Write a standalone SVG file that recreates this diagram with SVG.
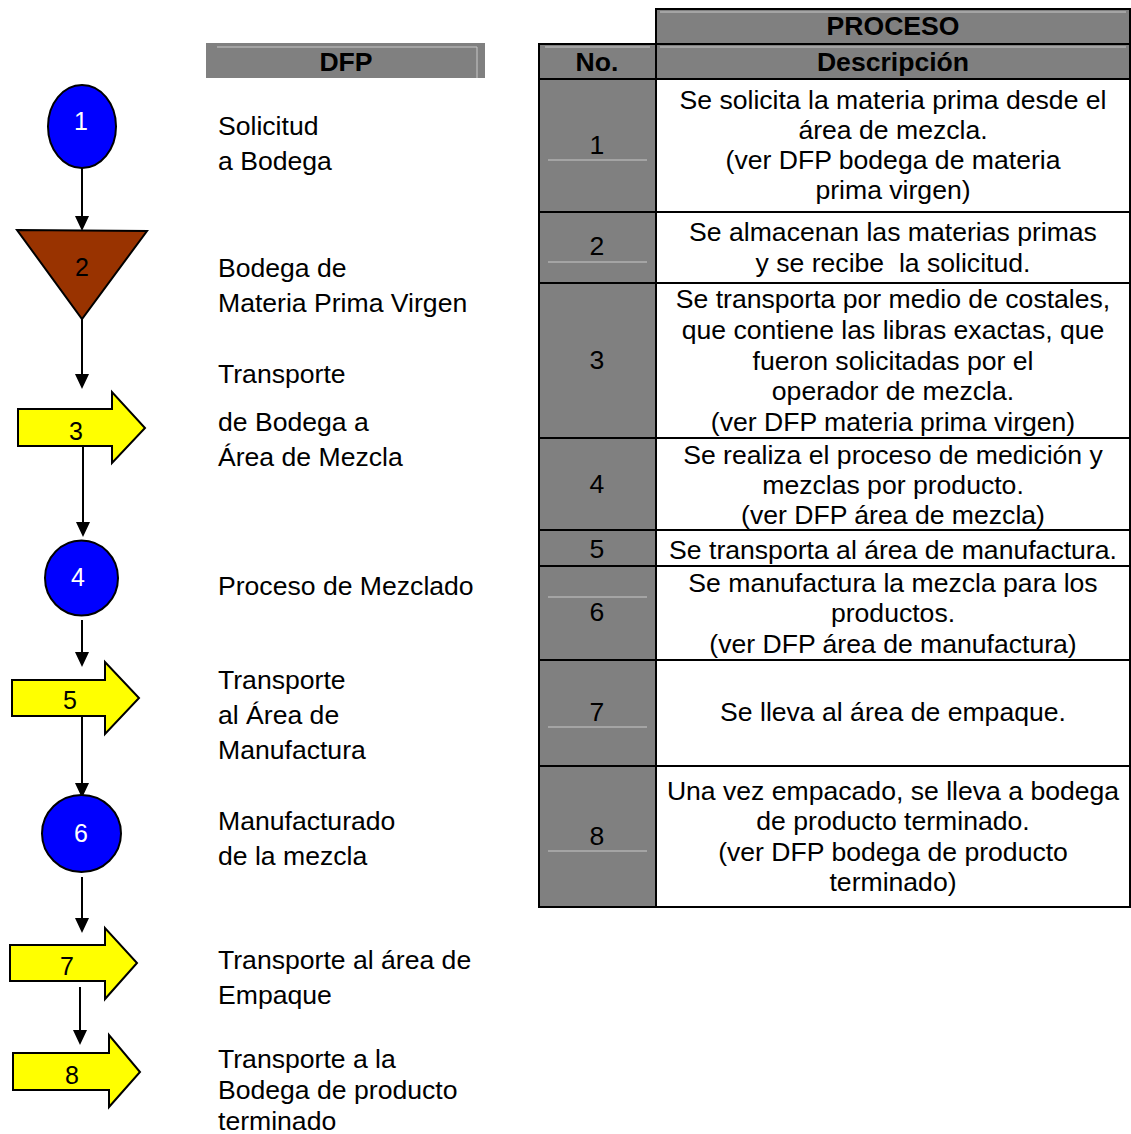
<svg xmlns="http://www.w3.org/2000/svg" width="1131" height="1134" viewBox="0 0 1131 1134">
<style>
  text { font-family: "Liberation Sans", Arial, sans-serif; font-size: 25px; fill: #000; }
  .c { text-anchor: middle; }
  .b { font-weight: bold; font-size: 25px; }
  .w { fill: #fff; }
  .lbl { white-space: pre; }
  .hdr { fill: #808080; stroke: #000; stroke-width: 2; }
  .cell { fill: #fff; stroke: #000; stroke-width: 2; }
  .nocell { fill: #808080; stroke: #000; stroke-width: 2; }
  .hl { stroke: #c8c8c8; stroke-width: 1; fill: none; }
  .conn { stroke: #000; stroke-width: 2; fill: none; marker-end: url(#ah); }
  .circ { fill: #0000ff; stroke: #000; stroke-width: 2; }
  .arr { fill: #ffff00; stroke: #000; stroke-width: 2; stroke-linejoin: miter; }
  .tri { fill: #993300; stroke: #000; stroke-width: 2; }
</style>
<defs>
  <marker id="ah" markerUnits="userSpaceOnUse" markerWidth="16" markerHeight="16" refX="7" refY="7" orient="auto">
    <path d="M0,0 L15,7 L0,14 z" fill="#000"/>
  </marker>
</defs>
<rect width="1131" height="1134" fill="#fff"/>

<!-- DFP header -->
<g id="dfp-header">
  <rect x="206" y="43" width="279" height="35" fill="#808080"/>
  <path class="hl" d="M217,47 H477 V78"/>
  <g transform="translate(346,0) scale(1.064,1)"><text class="c b" x="0" y="71">DFP</text></g>
</g>

<!-- Table -->
<g id="table">
  <rect class="hdr" x="656" y="9" width="474" height="35"/>
  <path class="hl" d="M660,12 H1126"/>
  <rect class="hdr" x="539" y="44" width="117" height="35"/>
  <rect class="hdr" x="656" y="44" width="474" height="35"/>
  <path class="hl" d="M545,47 H650 M660,47 H1126"/>
  <g transform="translate(597,0) scale(1.064,1)"><text class="c b" x="0" y="71">No.</text></g>

  <g id="row1">
    <rect class="nocell" x="539" y="79" width="117" height="133"/>
    <rect class="cell" x="656" y="79" width="474" height="133"/>
    <path class="hl" d="M548,160 H647"/>
  </g>
  <g id="row2">
    <rect class="nocell" x="539" y="212" width="117" height="71"/>
    <rect class="cell" x="656" y="212" width="474" height="71"/>
    <path class="hl" d="M548,262 H647"/>
  </g>
  <g id="row3">
    <rect class="nocell" x="539" y="283" width="117" height="155"/>
    <rect class="cell" x="656" y="283" width="474" height="155"/>
  </g>
  <g id="row4">
    <rect class="nocell" x="539" y="438" width="117" height="92"/>
    <rect class="cell" x="656" y="438" width="474" height="92"/>
  </g>
  <g id="row5">
    <rect class="nocell" x="539" y="530" width="117" height="36"/>
    <rect class="cell" x="656" y="530" width="474" height="36"/>
  </g>
  <g id="row6">
    <rect class="nocell" x="539" y="566" width="117" height="94"/>
    <rect class="cell" x="656" y="566" width="474" height="94"/>
    <path class="hl" d="M548,597 H647"/>
  </g>
  <g id="row7">
    <rect class="nocell" x="539" y="660" width="117" height="106"/>
    <rect class="cell" x="656" y="660" width="474" height="106"/>
    <path class="hl" d="M548,727 H647"/>
  </g>
  <g id="row8">
    <rect class="nocell" x="539" y="766" width="117" height="141"/>
    <rect class="cell" x="656" y="766" width="474" height="141"/>
    <path class="hl" d="M548,851 H647"/>
  </g>

  <g id="numbers" transform="translate(597,0) scale(1.064,1)">
    <text class="c" x="0" y="154">1</text>
    <text class="c" x="0" y="255">2</text>
    <text class="c" x="0" y="369">3</text>
    <text class="c" x="0" y="493">4</text>
    <text class="c" x="0" y="558">5</text>
    <text class="c" x="0" y="621">6</text>
    <text class="c" x="0" y="721">7</text>
    <text class="c" x="0" y="845">8</text>
  </g>

  <g id="descriptions" transform="translate(893,0) scale(1.064,1)">
    <text class="c b" x="0" y="35">PROCESO</text>
    <text class="c b" x="0" y="71">Descripción</text>
    <text class="c" x="0" y="109">Se solicita la materia prima desde el</text>
    <text class="c" x="0" y="139">área de mezcla.</text>
    <text class="c" x="0" y="169">(ver DFP bodega de materia</text>
    <text class="c" x="0" y="199">prima virgen)</text>
    <text class="c" x="0" y="241">Se almacenan las materias primas</text>
    <text class="c lbl" x="0" y="272">y se recibe  la solicitud.</text>
    <text class="c" x="0" y="308">Se transporta por medio de costales,</text>
    <text class="c" x="0" y="339">que contiene las libras exactas, que</text>
    <text class="c" x="0" y="370">fueron solicitadas por el</text>
    <text class="c" x="0" y="400">operador de mezcla.</text>
    <text class="c" x="0" y="431">(ver DFP materia prima virgen)</text>
    <text class="c" x="0" y="464">Se realiza el proceso de medición y</text>
    <text class="c" x="0" y="494">mezclas por producto.</text>
    <text class="c" x="0" y="524">(ver DFP área de mezcla)</text>
    <text class="c" x="0" y="559">Se transporta al área de manufactura.</text>
    <text class="c" x="0" y="592">Se manufactura la mezcla para los</text>
    <text class="c" x="0" y="622">productos.</text>
    <text class="c" x="0" y="653">(ver DFP área de manufactura)</text>
    <text class="c" x="0" y="721">Se lleva al área de empaque.</text>
    <text class="c" x="0" y="800">Una vez empacado, se lleva a bodega</text>
    <text class="c" x="0" y="830">de producto terminado.</text>
    <text class="c" x="0" y="861">(ver DFP bodega de producto</text>
    <text class="c" x="0" y="891">terminado)</text>
  </g>
</g>

<!-- Connectors -->
<g id="connectors">
  <line class="conn" x1="82" y1="168" x2="82" y2="223"/>
  <line class="conn" x1="82" y1="319" x2="82" y2="381"/>
  <line class="conn" x1="83" y1="446" x2="83" y2="529"/>
  <line class="conn" x1="82" y1="620" x2="82" y2="659"/>
  <line class="conn" x1="82" y1="716" x2="82" y2="790"/>
  <line class="conn" x1="82" y1="877" x2="82" y2="925"/>
  <line class="conn" x1="80" y1="987" x2="80" y2="1037"/>
</g>

<!-- Nodes -->
<g id="n1">
  <ellipse class="circ" cx="82" cy="126.5" rx="34" ry="41.5"/>
  <text class="c w" x="81" y="130">1</text>
  <g transform="translate(218,0) scale(1.064,1)">
    <text x="0" y="135">Solicitud</text>
    <text x="0" y="170">a Bodega</text>
  </g>
</g>
<g id="n2">
  <polygon class="tri" points="17,230 147,231 82,319"/>
  <text class="c" x="82" y="276">2</text>
  <g transform="translate(218,0) scale(1.064,1)">
    <text x="0" y="277">Bodega de</text>
    <text x="0" y="312">Materia Prima Virgen</text>
  </g>
</g>
<g id="n3">
  <polygon class="arr" points="18,409 112,409 112,392 145,428 112,463 112,446 18,446"/>
  <text class="c" x="76" y="440">3</text>
  <g transform="translate(218,0) scale(1.064,1)">
    <text x="0" y="383">Transporte</text>
    <text x="0" y="431">de Bodega a</text>
    <text x="0" y="466">Área de Mezcla</text>
  </g>
</g>
<g id="n4">
  <ellipse class="circ" cx="81.5" cy="578" rx="36.5" ry="37.5"/>
  <text class="c w" x="78" y="586">4</text>
  <g transform="translate(218,0) scale(1.064,1)">
    <text x="0" y="595">Proceso de Mezclado</text>
  </g>
</g>
<g id="n5">
  <polygon class="arr" points="12,680 105,680 105,662 139,698 105,734 105,716 12,716"/>
  <text class="c" x="70" y="709">5</text>
  <g transform="translate(218,0) scale(1.064,1)">
    <text x="0" y="689">Transporte</text>
    <text x="0" y="724">al Área de</text>
    <text x="0" y="759">Manufactura</text>
  </g>
</g>
<g id="n6">
  <ellipse class="circ" cx="81.5" cy="833.5" rx="39.5" ry="38.5"/>
  <text class="c w" x="81" y="842">6</text>
  <g transform="translate(218,0) scale(1.064,1)">
    <text x="0" y="830">Manufacturado</text>
    <text x="0" y="865">de la mezcla</text>
  </g>
</g>
<g id="n7">
  <polygon class="arr" points="10,945 105,945 105,928 137,963 105,999 105,981 10,981"/>
  <text class="c" x="67" y="975">7</text>
  <g transform="translate(218,0) scale(1.064,1)">
    <text x="0" y="969">Transporte al área de</text>
    <text x="0" y="1004">Empaque</text>
  </g>
</g>
<g id="n8">
  <polygon class="arr" points="13,1053 109,1053 109,1035 140,1072 109,1107 109,1090 13,1090"/>
  <text class="c" x="72" y="1084">8</text>
  <g transform="translate(218,0) scale(1.064,1)">
    <text x="0" y="1068">Transporte a la</text>
    <text x="0" y="1099">Bodega de producto</text>
    <text x="0" y="1130">terminado</text>
  </g>
</g>
</svg>
